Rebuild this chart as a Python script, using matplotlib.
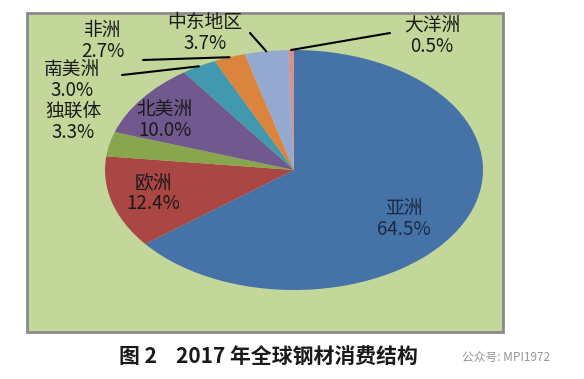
import numpy as np
import matplotlib
matplotlib.use('Agg')
import matplotlib.pyplot as plt
from matplotlib.patches import Rectangle

plt.rcParams['font.family'] = ['Noto Sans CJK SC', 'DejaVu Sans']

# data
regions = ['亚洲', '欧洲', '独联体', '北美洲', '南美洲', '非洲', '中东地区', '大洋洲']
shares = [64.5, 12.4, 3.3, 10.0, 3.0, 2.7, 3.7, 0.5]
colors = ['#4572a7', '#aa4643', '#89a54e', '#71588f', '#4198af', '#db843d', '#93a9cf', '#d19392']

# label centres in pixels (x, y from top)
label_pos = [(404, 219), (153, 193), (73, 122), (165, 120), (72, 80), (103, 41), (205, 33), (432, 36)]
# leader line end near the label, None = no line
leader_end = [None, None, None, None, (122, 75), (143, 60), (250, 33), (390, 33)]

W, H = 584, 379
fig = plt.figure(figsize=(W / 100, H / 100), dpi=100)
fig.patch.set_facecolor('white')

# background / frame axes in pixel coordinates
bg = fig.add_axes([0, 0, 1, 1])
bg.set_xlim(0, W)
bg.set_ylim(H, 0)
bg.axis('off')
bg.add_patch(Rectangle((27, 13), 476, 319, facecolor='#c4d79b', edgecolor='#8a8a8a', lw=2))

# pie axes (the original is stretched horizontally -> ellipse)
cx, cy, rx, ry = 294, 170, 189, 120
pax = fig.add_axes([(cx - rx) / W, (H - cy - ry) / H, 2 * rx / W, 2 * ry / H])
wedges, _ = pax.pie(shares, colors=colors, startangle=90, counterclock=False,
                    radius=1, wedgeprops=dict(linewidth=0))
pax.set_aspect('auto')
pax.set_xlim(-1, 1)
pax.set_ylim(-1, 1)
pax.axis('off')

# overlay for labels and leader lines
top = fig.add_axes([0, 0, 1, 1])
top.set_xlim(0, W)
top.set_ylim(H, 0)
top.axis('off')
top.patch.set_alpha(0)

for w, name, val, (lx, ly), end in zip(wedges, regions, shares, label_pos, leader_end):
    tc = '#1c2a45' if name == '亚洲' else '#1a1a1a'
    top.text(lx, ly, f'{name}\n{val:.1f}%', ha='center', va='center', fontsize=13.5,
             color=tc, linespacing=1.0)
    if end is not None:
        ang = np.deg2rad((w.theta1 + w.theta2) / 2)
        top.annotate('', xy=(np.cos(ang), np.sin(ang)), xycoords=pax.transData,
                     xytext=end, textcoords='data',
                     arrowprops=dict(arrowstyle='-', color='black', lw=1.5,
                                     shrinkA=0, shrinkB=0))

# caption and watermark
top.text(268, 357, '图 2    2017 年全球钢材消费结构', ha='center', va='center',
         fontsize=15, fontweight='bold', color='#1a1a1a')
top.text(462, 357, '公众号: MPI1972', ha='left', va='center', fontsize=8.5,
         color='#7a7a7a', alpha=0.8)

fig.savefig('out.png', dpi=100)
